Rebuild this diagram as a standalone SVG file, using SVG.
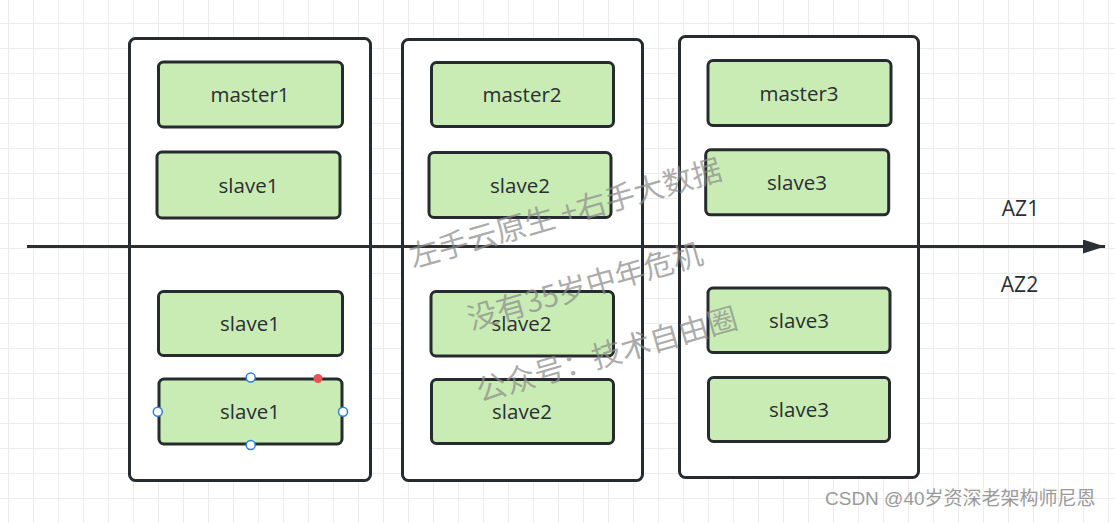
<svg xmlns="http://www.w3.org/2000/svg" width="1115" height="523" viewBox="0 0 1115 523">
  <defs>
    <pattern id="grid" x="8" y="23" width="25" height="25" patternUnits="userSpaceOnUse">
      <path d="M0.5 0 V25 M0 0.5 H25" fill="none" stroke="#ececec" stroke-width="1"/>
    </pattern>
    <marker id="arrow" viewBox="0 0 22 14" refX="22" refY="7" markerWidth="22" markerHeight="14" markerUnits="userSpaceOnUse" orient="auto">
      <path d="M0 0 L22 7 L0 14 Z" fill="#2b2f33"/>
    </marker>
    <style>
      .zone { fill: #ffffff; stroke: #262b30; stroke-width: 3; }
      .node { fill: #c9ecb4; stroke: #262b30; stroke-width: 3; }
      .label { font-family: "Open Sans", "Noto Sans", "Liberation Sans", sans-serif; font-size: 20.5px; fill: #2a2e33; text-anchor: middle; }
      .az { font-family: "Open Sans", "Noto Sans", "Liberation Sans", sans-serif; font-size: 21px; fill: #2a2e33; text-anchor: middle; }
      .wm { font-family: "Noto Sans CJK SC", "Noto Sans", sans-serif; font-size: 30px; fill: #8c8c8c; fill-opacity: 0.72; }
      .handle { fill: #ffffff; stroke: #2b7de9; stroke-width: 1.5; }
      .credit { font-family: "Liberation Sans", "Noto Sans CJK SC", sans-serif; font-size: 19px; fill: #9a9a9a; }
    </style>
  </defs>

  <rect x="0" y="0" width="1115" height="523" fill="#ffffff"/>
  <rect x="0" y="0" width="1115" height="523" fill="url(#grid)"/>

  <g id="zones">
    <rect id="zone1" class="zone" x="129.5" y="38.5" width="241" height="442" rx="6"/>
    <rect id="zone2" class="zone" x="402.5" y="39.5" width="240" height="441" rx="6"/>
    <rect id="zone3" class="zone" x="679.5" y="36.5" width="239" height="441" rx="6"/>
  </g>

  <g id="connectors">
    <line x1="27" y1="246.5" x2="1105" y2="246.5" stroke="#2b2f33" stroke-width="3" marker-end="url(#arrow)"/>
  </g>

  <g id="master1"><rect class="node" x="158.5" y="62" width="184" height="65" rx="5"/><text class="label" x="250" y="102">master1</text></g>
  <g id="slave1-a"><rect class="node" x="157" y="152" width="183" height="66" rx="5"/><text class="label" x="248.5" y="192.5">slave1</text></g>
  <g id="slave1-b"><rect class="node" x="158.5" y="291.5" width="184" height="64" rx="5"/><text class="label" x="250" y="331">slave1</text></g>
  <g id="slave1-c"><rect class="node" x="159" y="379" width="183" height="65" rx="5"/><text class="label" x="250" y="419">slave1</text>
    <circle class="handle" cx="250.7" cy="377.5" r="4.5"/>
    <circle class="handle" cx="157.8" cy="411.7" r="4.5"/>
    <circle class="handle" cx="343" cy="411.7" r="4.5"/>
    <circle class="handle" cx="250.7" cy="445" r="4.5"/>
    <circle cx="318" cy="378.5" r="4.5" fill="#e9525a"/>
  </g>

  <g id="master2"><rect class="node" x="431.5" y="62.5" width="182" height="64" rx="5"/><text class="label" x="522" y="102">master2</text></g>
  <g id="slave2-a"><rect class="node" x="429" y="152.5" width="182" height="65" rx="5"/><text class="label" x="520" y="192.5">slave2</text></g>
  <g id="slave2-b"><rect class="node" x="431" y="291.5" width="182.5" height="64.5" rx="5"/><text class="label" x="521.5" y="331">slave2</text></g>
  <g id="slave2-c"><rect class="node" x="431.5" y="379.5" width="182" height="64" rx="5"/><text class="label" x="522" y="419">slave2</text></g>

  <g id="master3"><rect class="node" x="708" y="60.5" width="183" height="65" rx="5"/><text class="label" x="799" y="100.5">master3</text></g>
  <g id="slave3-a"><rect class="node" x="705.7" y="149.8" width="183" height="65" rx="5"/><text class="label" x="797" y="190">slave3</text></g>
  <g id="slave3-b"><rect class="node" x="708" y="288" width="182" height="64.5" rx="5"/><text class="label" x="799" y="328">slave3</text></g>
  <g id="slave3-c"><rect class="node" x="708.5" y="377.5" width="181" height="64" rx="5"/><text class="label" x="799" y="417">slave3</text></g>

  <g id="az-labels">
    <text class="az" x="1020.5" y="215.5">AZ1</text>
    <text class="az" x="1019.5" y="291.5">AZ2</text>
  </g>

  <g id="watermark">
    <text class="wm" transform="translate(413 268) rotate(-16)">左手云原生 +右手大数据</text>
    <text class="wm" transform="translate(471 330) rotate(-16)">没有35岁中年危机</text>
    <text class="wm" transform="translate(480 402) rotate(-16)">公众号：技术自由圈</text>
  </g>

  <text class="credit" x="825" y="505">CSDN @40岁资深老架构师尼恩</text>
</svg>
